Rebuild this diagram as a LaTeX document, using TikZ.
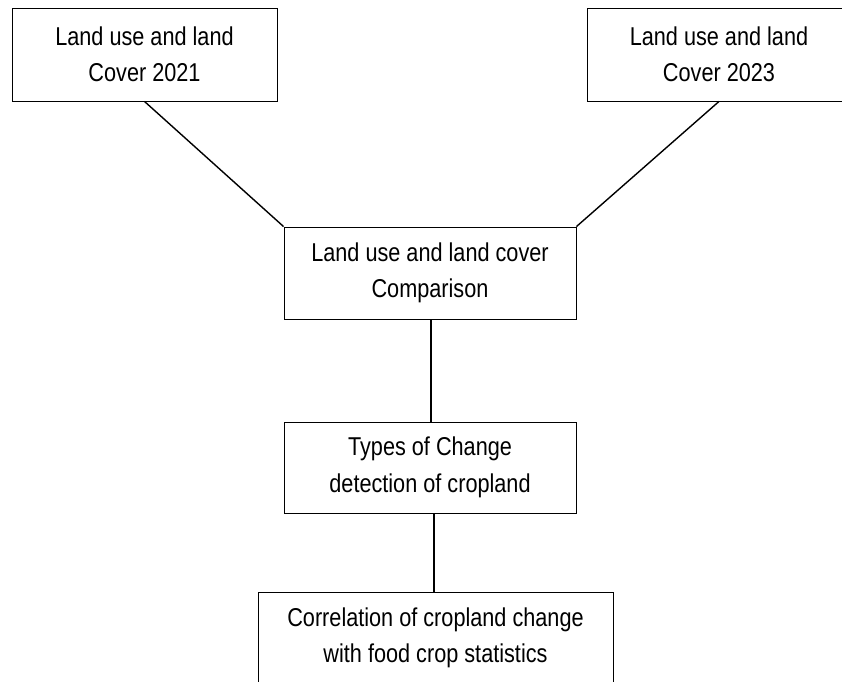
\documentclass[tikz,border=0pt]{standalone}
\usepackage{fontspec}
\setmainfont{Liberation Sans}[FakeStretch=0.84]
\usetikzlibrary{calc}
\begin{document}
\begin{tikzpicture}[x=1pt,y=1pt,
  box/.style={draw=black, line width=0.9pt, fill=white, align=center, inner sep=0pt,
    font=\fontsize{25.8}{36.5}\selectfont},
  link/.style={draw=black, line width=1.4pt}]
\useasboundingbox (0,0) rectangle (842,681);
\node[box, minimum width=265, minimum height=93] (b1) at (144.5,626.5) {Land use and land\\Cover 2021};
\node[box, minimum width=264, minimum height=93] (b2) at (719,626.5) {Land use and land\\Cover 2023};
\node[box, minimum width=292, minimum height=92] (b3) at (430,408) {Land use and land cover\\Comparison};
\node[box, minimum width=292, minimum height=91] (b4) at (430,213.5) {Types of Change\\detection of cropland};
\node[box, minimum width=355, minimum height=92] (b5) at (435.5,43) {Correlation of cropland change\\with food crop statistics};
\coordinate (c3) at ($(b3.south)+(1,0)$);
\coordinate (c4) at ($(b4.south)+(4,0)$);
\draw[link] (b1.south) -- (b3.north west);
\draw[link] (b2.south) -- (b3.north east);
\draw[link] (c3) -- (c3 |- b4.north);
\draw[link] (c4) -- (c4 |- b5.north);
\end{tikzpicture}
\end{document}
